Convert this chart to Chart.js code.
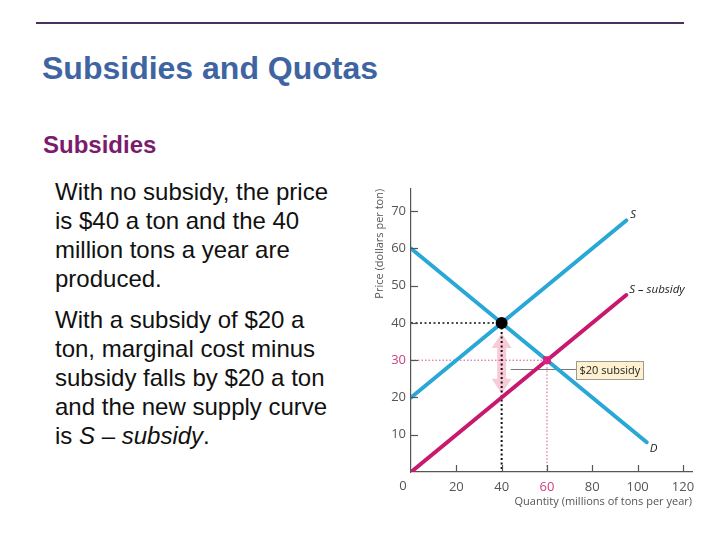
<!DOCTYPE html>
<html>
<head>
<meta charset="utf-8">
<script src="https://cdn.jsdelivr.net/npm/chart.js@4/dist/chart.umd.min.js"></script>
<style>
  html, body { margin:0; padding:0; background:#fff; }
  body { width:720px; height:540px; position:relative; overflow:hidden; font-family:"Liberation Sans", Arial, sans-serif; }
  #rule { position:absolute; left:36px; top:22px; width:648px; height:2px; background:#4b2f5e; }
  #title { position:absolute; left:42px; top:48px; font-size:32px; font-weight:bold; color:#3e64a2; line-height:40px; white-space:nowrap; }
  #sub { position:absolute; left:43px; top:130px; font-size:24px; font-weight:bold; color:#7a1b6e; line-height:30px; white-space:nowrap; }
  .para { position:absolute; left:55px; font-size:24px; color:#111; line-height:29px; white-space:nowrap; }
  #p1 { top:177px; }
  #p2 { top:305px; }
  #wrap { position:absolute; left:360px; top:176px; width:350px; height:340px; }
</style>
</head>
<body>
<div id="rule"></div>
<div id="title">Subsidies and Quotas</div>
<div id="sub">Subsidies</div>
<div class="para" id="p1">With no subsidy, the price<br>is $40 a ton and the 40<br>million tons a year are<br>produced.</div>
<div class="para" id="p2">With a subsidy of $20 a<br>ton, marginal cost minus<br>subsidy falls by $20 a ton<br>and the new supply curve<br>is <i>S</i> – <i>subsidy</i>.</div>
<div id="wrap"><canvas id="c" width="350" height="340"></canvas></div>
<script>
// ---- data ----
const demandD      = [{x:0, y:60}, {x:104, y:8}];
const supplyS      = [{x:0, y:20}, {x:95, y:67.5}];
const supplySub    = [{x:0, y:0},  {x:95, y:47.5}];
const eqNoSubsidy  = [{x:40, y:40}];
const eqSubsidy    = [{x:60, y:30}];
const guideBlackH  = [{x:0, y:40}, {x:40, y:40}];
const guideBlackV  = [{x:40, y:40}, {x:40, y:0}];
const guidePinkH   = [{x:0, y:30}, {x:60, y:30}];
const guidePinkV   = [{x:60, y:30}, {x:60, y:0}];
const arrowQ       = 40;
const arrowRange   = [37.3, 21];
const leaderLine   = [{x:44, y:27.6}, {x:72.8, y:27.6}];
const subsidyBox   = {x0:72.8, x1:102.4, y0:29.8, y1:24.9, text:'$20 subsidy'};
const xTickValues  = [0, 20, 40, 60, 80, 100, 120];
const yTickValues  = [10, 20, 30, 40, 50, 60, 70];
const curveLabels  = ['S', 'S – subsidy', 'D'];
const xTitle = 'Quantity (millions of tons per year)';
const yTitle = 'Price (dollars per ton)';

const CYAN = '#29a8d7', MAG = '#c8196f', PINKTXT = '#cc3f80', GRAY = '#555';
const tickFont = {family:'"Open Sans", sans-serif', size:13};

const overlay = {
  id:'overlay',
  beforeDatasetsDraw(chart){
    const {ctx, scales:{x, y}} = chart;
    const cx = x.getPixelForValue(arrowQ);
    const top = y.getPixelForValue(arrowRange[0]);
    const bot = y.getPixelForValue(arrowRange[1]);
    const hw = 10, hh = 15, sw = 4.5;
    ctx.save();
    ctx.fillStyle = '#f8cbd9';
    ctx.beginPath();
    ctx.moveTo(cx, top);
    ctx.lineTo(cx+hw, top+hh);
    ctx.lineTo(cx+sw, top+hh);
    ctx.lineTo(cx+sw, bot-hh);
    ctx.lineTo(cx+hw, bot-hh);
    ctx.lineTo(cx, bot);
    ctx.lineTo(cx-hw, bot-hh);
    ctx.lineTo(cx-sw, bot-hh);
    ctx.lineTo(cx-sw, top+hh);
    ctx.lineTo(cx-hw, top+hh);
    ctx.closePath();
    ctx.fill();
    ctx.strokeStyle = '#777';
    ctx.lineWidth = 1;
    ctx.beginPath();
    ctx.moveTo(x.getPixelForValue(leaderLine[0].x), Math.round(y.getPixelForValue(leaderLine[0].y))+0.5);
    ctx.lineTo(x.getPixelForValue(leaderLine[1].x), Math.round(y.getPixelForValue(leaderLine[1].y))+0.5);
    ctx.stroke();
    ctx.restore();
  },
  afterDatasetsDraw(chart){
    const {ctx, scales:{x, y}, chartArea} = chart;
    ctx.save();
    ctx.strokeStyle = GRAY; ctx.lineWidth = 1.2;
    yTickValues.forEach(v => {
      const py = Math.round(y.getPixelForValue(v)) + 0.5;
      ctx.beginPath(); ctx.moveTo(chartArea.left, py); ctx.lineTo(chartArea.left+7, py); ctx.stroke();
    });
    xTickValues.filter(v => v > 0).forEach(v => {
      const px = Math.round(x.getPixelForValue(v)) + 0.5;
      ctx.beginPath(); ctx.moveTo(px, chartArea.bottom); ctx.lineTo(px, chartArea.bottom-7); ctx.stroke();
    });
    ctx.fillStyle = GRAY;
    ctx.font = '13px "Open Sans", sans-serif';
    ctx.textAlign = 'center'; ctx.textBaseline = 'middle';
    ctx.fillText('0', x.getPixelForValue(0) - 8, chartArea.bottom + 14);
    ctx.fillStyle = '#222';
    ctx.font = 'italic 11.5px "Open Sans", sans-serif';
    ctx.textAlign = 'left';
    const eS = supplyS[supplyS.length-1], eSS = supplySub[supplySub.length-1], eD = demandD[demandD.length-1];
    ctx.fillText(curveLabels[0], x.getPixelForValue(eS.x)+4, y.getPixelForValue(eS.y)-6);
    ctx.fillText(curveLabels[1], x.getPixelForValue(eSS.x)+3, y.getPixelForValue(eSS.y)-5);
    ctx.fillText(curveLabels[2], x.getPixelForValue(eD.x)+3, y.getPixelForValue(eD.y)+7);
    const bx0 = x.getPixelForValue(subsidyBox.x0), bx1 = x.getPixelForValue(subsidyBox.x1);
    const by0 = y.getPixelForValue(subsidyBox.y0), by1 = y.getPixelForValue(subsidyBox.y1);
    ctx.fillStyle = '#fdf1cf';
    ctx.fillRect(bx0, by0, bx1-bx0, by1-by0);
    ctx.strokeStyle = '#9a9a9a'; ctx.lineWidth = 1;
    ctx.strokeRect(Math.round(bx0)+0.5, Math.round(by0)+0.5, Math.round(bx1-bx0), Math.round(by1-by0));
    ctx.fillStyle = '#222';
    ctx.font = '11px "Open Sans", sans-serif';
    ctx.textBaseline = 'middle';
    ctx.fillText(subsidyBox.text, bx0+3.5, (by0+by1)/2+0.5);
    ctx.restore();
  }
};

const line = (data, color, width, dash) => ({
  data, showLine:true, borderColor:color, borderWidth:width, borderDash:dash||[],
  pointRadius:0, fill:false, borderCapStyle: dash ? 'butt' : 'round'
});

new Chart(document.getElementById('c'), {
  type:'scatter',
  data:{ datasets:[
    {data:eqNoSubsidy, pointRadius:6, pointBackgroundColor:'#000', pointBorderColor:'#000', pointBorderWidth:0},
    {data:eqSubsidy, pointStyle:'rect', pointRadius:5.5, pointBackgroundColor:'#d8237e', pointBorderColor:'#d8237e', pointBorderWidth:0},
    line(supplySub, MAG, 4),
    line(supplyS, CYAN, 4),
    line(demandD, CYAN, 4),
    line(guideBlackH, '#111', 1.5, [2,2.5]),
    line(guideBlackV, '#111', 2, [2,2.5]),
    line(guidePinkH, '#d0508c', 1, [1.5,2]),
    line(guidePinkV, '#d0508c', 1, [1.5,2])
  ]},
  options:{
    responsive:false, animation:false,
    layout:{padding:{top:10, right:18, left:0, bottom:0}},
    plugins:{legend:{display:false}, tooltip:{enabled:false}},
    scales:{
      x:{
        type:'linear', min:0, max:124,
        grid:{display:false, drawTicks:false},
        border:{display:true, color:GRAY, width:1.2},
        ticks:{stepSize:20, includeBounds:false, padding:7, font:tickFont,
          color:(c)=> c.tick && c.tick.value===60 ? PINKTXT : GRAY,
          callback:(v)=> v===0 ? '' : String(v)},
        afterBuildTicks:(s)=>{ s.ticks = xTickValues.map(v=>({value:v})); },
        afterFit:(s)=>{ s.height = 44; },
        title:{display:true, text:xTitle, align:'end', color:GRAY,
          font:{family:'"Open Sans", sans-serif', size:11}, padding:{top:8, bottom:8}}
      },
      y:{
        type:'linear', min:0, max:76,
        grid:{display:false, drawTicks:false},
        border:{display:true, color:GRAY, width:1.2},
        ticks:{stepSize:10, includeBounds:false, padding:5, font:tickFont,
          color:(c)=> c.tick && c.tick.value===30 ? PINKTXT : GRAY},
        afterBuildTicks:(s)=>{ s.ticks = yTickValues.map(v=>({value:v})); },
        afterFit:(s)=>{ s.width = 51; },
        title:{display:true, text:yTitle, align:'end', color:GRAY,
          font:{family:'"Open Sans", sans-serif', size:11}, padding:{top:13, bottom:0}}
      }
    }
  },
  plugins:[overlay]
});
</script>
</body>
</html>
